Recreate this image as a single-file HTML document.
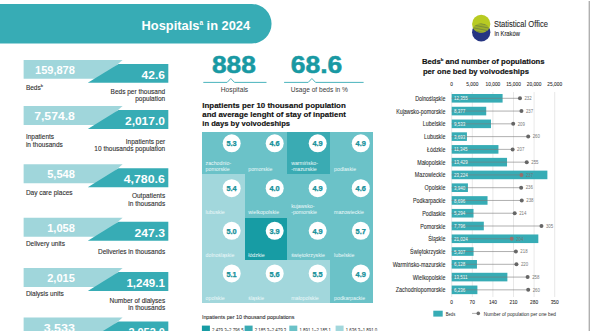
<!DOCTYPE html>
<html><head><meta charset="utf-8"><style>
html,body{margin:0;padding:0;background:#fff;width:590px;height:331px;overflow:hidden}
svg{display:block}
text{font-family:"Liberation Sans", sans-serif}
</style></head><body>
<svg width="590" height="331" viewBox="0 0 590 331">
<rect width="590" height="331" fill="#fff"/>
<path d="M0 4 H251.8 A19.75 19.75 0 0 1 251.8 43.5 H0 Z" fill="#37acb5"/>
<text x="141.60" y="29.70" font-size="12.8" font-weight="bold" fill="#fff" text-anchor="start" textLength="108.50" lengthAdjust="spacingAndGlyphs" >Hospitals<tspan font-size="6.5" dy="-5">a</tspan><tspan dy="5"> in 2024</tspan></text>
<polygon points="23.6,59.9 122.6,59.9 100.81,78.85 23.6,78.85" fill="#a0d6db"/>
<polygon points="118.5,63.90 168.3,63.90 168.3,82.85 87.80,82.85" fill="#37acb5"/>
<text x="74.90" y="74.10" font-size="10.9" font-weight="bold" fill="#fff" text-anchor="end" textLength="39.90" lengthAdjust="spacingAndGlyphs" >159,878</text>
<text x="164.90" y="78.60" font-size="11.0" font-weight="bold" fill="#fff" text-anchor="end" textLength="23.30" lengthAdjust="spacingAndGlyphs" >42.6</text>
<text x="25.90" y="89.80" font-size="6.5" font-weight="normal" fill="#2e2e2e" text-anchor="start" stroke="#2e2e2e" stroke-width="0.1">Beds<tspan font-size="4" dy="-3">b</tspan></text>
<text x="165.20" y="93.90" font-size="6.5" font-weight="normal" fill="#2e2e2e" text-anchor="end" stroke="#2e2e2e" stroke-width="0.1">Beds per thousand</text>
<text x="165.20" y="101.10" font-size="6.5" font-weight="normal" fill="#2e2e2e" text-anchor="end" stroke="#2e2e2e" stroke-width="0.1">population</text>
<polygon points="23.6,106.1 122.6,106.1 100.81,125.05 23.6,125.05" fill="#a0d6db"/>
<polygon points="118.5,110.10 168.3,110.10 168.3,129.05 87.80,129.05" fill="#37acb5"/>
<text x="74.90" y="120.30" font-size="10.9" font-weight="bold" fill="#fff" text-anchor="end" textLength="40.70" lengthAdjust="spacingAndGlyphs" >7,574.8</text>
<text x="164.90" y="124.80" font-size="11.0" font-weight="bold" fill="#fff" text-anchor="end" textLength="39.90" lengthAdjust="spacingAndGlyphs" >2,017.0</text>
<text x="25.90" y="138.80" font-size="6.5" font-weight="normal" fill="#2e2e2e" text-anchor="start" stroke="#2e2e2e" stroke-width="0.1">Inpatients</text>
<text x="25.90" y="146.60" font-size="6.5" font-weight="normal" fill="#2e2e2e" text-anchor="start" stroke="#2e2e2e" stroke-width="0.1">in thousands</text>
<text x="165.20" y="143.50" font-size="6.5" font-weight="normal" fill="#2e2e2e" text-anchor="end" stroke="#2e2e2e" stroke-width="0.1">Inpatients per</text>
<text x="165.20" y="151.00" font-size="6.5" font-weight="normal" fill="#2e2e2e" text-anchor="end" stroke="#2e2e2e" stroke-width="0.1">10 thousands population</text>
<polygon points="23.6,164.2 122.6,164.2 100.81,183.15 23.6,183.15" fill="#a0d6db"/>
<polygon points="118.5,168.20 168.3,168.20 168.3,187.15 87.80,187.15" fill="#37acb5"/>
<text x="74.90" y="178.40" font-size="10.9" font-weight="bold" fill="#fff" text-anchor="end" textLength="27.70" lengthAdjust="spacingAndGlyphs" >5,548</text>
<text x="164.90" y="182.90" font-size="11.0" font-weight="bold" fill="#fff" text-anchor="end" textLength="41.20" lengthAdjust="spacingAndGlyphs" >4,780.6</text>
<text x="25.90" y="194.90" font-size="6.5" font-weight="normal" fill="#2e2e2e" text-anchor="start" stroke="#2e2e2e" stroke-width="0.1">Day care places</text>
<text x="165.20" y="197.80" font-size="6.5" font-weight="normal" fill="#2e2e2e" text-anchor="end" stroke="#2e2e2e" stroke-width="0.1">Outpatients</text>
<text x="165.20" y="205.50" font-size="6.5" font-weight="normal" fill="#2e2e2e" text-anchor="end" stroke="#2e2e2e" stroke-width="0.1">in thousands</text>
<polygon points="23.6,217.8 122.6,217.8 100.81,236.75 23.6,236.75" fill="#a0d6db"/>
<polygon points="118.5,221.80 168.3,221.80 168.3,240.75 87.80,240.75" fill="#37acb5"/>
<text x="74.90" y="232.00" font-size="10.9" font-weight="bold" fill="#fff" text-anchor="end" textLength="27.70" lengthAdjust="spacingAndGlyphs" >1,058</text>
<text x="164.90" y="236.50" font-size="11.0" font-weight="bold" fill="#fff" text-anchor="end" textLength="30.40" lengthAdjust="spacingAndGlyphs" >247.3</text>
<text x="25.90" y="246.00" font-size="6.5" font-weight="normal" fill="#2e2e2e" text-anchor="start" stroke="#2e2e2e" stroke-width="0.1">Delivery units</text>
<text x="165.20" y="253.90" font-size="6.5" font-weight="normal" fill="#2e2e2e" text-anchor="end" stroke="#2e2e2e" stroke-width="0.1">Deliveries in thousands</text>
<polygon points="23.6,268.0 122.6,268.0 100.81,286.95 23.6,286.95" fill="#a0d6db"/>
<polygon points="118.5,272.00 168.3,272.00 168.3,290.95 87.80,290.95" fill="#37acb5"/>
<text x="74.90" y="282.20" font-size="10.9" font-weight="bold" fill="#fff" text-anchor="end" textLength="27.70" lengthAdjust="spacingAndGlyphs" >2,015</text>
<text x="164.90" y="286.70" font-size="11.0" font-weight="bold" fill="#fff" text-anchor="end" textLength="38.50" lengthAdjust="spacingAndGlyphs" >1,249.1</text>
<text x="25.90" y="295.70" font-size="6.5" font-weight="normal" fill="#2e2e2e" text-anchor="start" stroke="#2e2e2e" stroke-width="0.1">Dialysis units</text>
<text x="165.20" y="302.50" font-size="6.5" font-weight="normal" fill="#2e2e2e" text-anchor="end" stroke="#2e2e2e" stroke-width="0.1">Number of dialyses</text>
<text x="165.20" y="310.10" font-size="6.5" font-weight="normal" fill="#2e2e2e" text-anchor="end" stroke="#2e2e2e" stroke-width="0.1">in thousands</text>
<polygon points="23.6,317.4 122.6,317.4 100.81,336.35 23.6,336.35" fill="#a0d6db"/>
<polygon points="118.5,321.40 168.3,321.40 168.3,340.35 87.80,340.35" fill="#37acb5"/>
<text x="74.90" y="331.60" font-size="10.9" font-weight="bold" fill="#fff" text-anchor="end" textLength="31.20" lengthAdjust="spacingAndGlyphs" >3,533</text>
<text x="164.90" y="336.10" font-size="11.0" font-weight="bold" fill="#fff" text-anchor="end" textLength="36.50" lengthAdjust="spacingAndGlyphs" >2,052.0</text>
<text x="212.00" y="73.40" font-size="23.4" font-weight="bold" fill="#1899a3" text-anchor="start" textLength="43.80" lengthAdjust="spacingAndGlyphs" stroke="#1899a3" stroke-width="0.5">888</text>
<text x="290.70" y="73.40" font-size="23.4" font-weight="bold" fill="#1899a3" text-anchor="start" textLength="51.60" lengthAdjust="spacingAndGlyphs" stroke="#1899a3" stroke-width="0.5">68.6</text>
<polyline points="203.3,82.4 227.10000000000002,82.4 230.8,78.5 234.5,82.4 266.5,82.4" fill="none" stroke="#37acb5" stroke-width="0.9"/>
<polyline points="284.1,82.4 308.2,82.4 311.9,78.5 315.59999999999997,82.4 363.6,82.4" fill="none" stroke="#37acb5" stroke-width="0.9"/>
<text x="220.80" y="91.60" font-size="6.5" font-weight="normal" fill="#3a3a3a" text-anchor="start" textLength="27.40" lengthAdjust="spacingAndGlyphs" >Hospitals</text>
<text x="290.80" y="91.60" font-size="6.5" font-weight="normal" fill="#3a3a3a" text-anchor="start" textLength="57.20" lengthAdjust="spacingAndGlyphs" >Usage of beds in %</text>
<text x="202.30" y="107.70" font-size="7.6" font-weight="bold" fill="#111" text-anchor="start" textLength="143.50" lengthAdjust="spacingAndGlyphs" stroke="#111" stroke-width="0.15">Inpatients per 10 thousand population</text>
<text x="202.30" y="116.60" font-size="7.6" font-weight="bold" fill="#111" text-anchor="start" textLength="143.50" lengthAdjust="spacingAndGlyphs" stroke="#111" stroke-width="0.15">and average lenght of stay of inpatient</text>
<text x="202.30" y="125.50" font-size="7.6" font-weight="bold" fill="#111" text-anchor="start" textLength="87.80" lengthAdjust="spacingAndGlyphs" stroke="#111" stroke-width="0.15">in days by voivodeships</text>
<rect x="201.8" y="131.9" width="171.50" height="171.40" fill="#6bc2c8" shape-rendering="crispEdges"/>
<rect x="287.4" y="131.9" width="42.90" height="42.10" fill="#3aabb3" shape-rendering="crispEdges"/>
<rect x="201.8" y="174.0" width="42.70" height="43.70" fill="#a2d7dc" shape-rendering="crispEdges"/>
<rect x="201.8" y="217.7" width="42.70" height="42.60" fill="#a2d7dc" shape-rendering="crispEdges"/>
<rect x="244.5" y="217.7" width="42.90" height="42.60" fill="#179ca4" shape-rendering="crispEdges"/>
<rect x="201.8" y="260.3" width="42.70" height="43.00" fill="#a2d7dc" shape-rendering="crispEdges"/>
<rect x="244.5" y="260.3" width="42.90" height="43.00" fill="#a2d7dc" shape-rendering="crispEdges"/>
<rect x="287.4" y="260.3" width="42.90" height="43.00" fill="#a2d7dc" shape-rendering="crispEdges"/>
<circle cx="231.7" cy="143.35" r="9.0" fill="#fff"/>
<text x="231.60" y="146.45" font-size="7.0" font-weight="bold" fill="#138f99" text-anchor="middle" textLength="10.22" lengthAdjust="spacingAndGlyphs" stroke="#138f99" stroke-width="0.25">5.3</text>
<text x="205.60" y="164.50" font-size="5.5" font-weight="normal" fill="#eef9fa" text-anchor="start" textLength="25.56" lengthAdjust="spacingAndGlyphs" >zachodnio-</text>
<text x="205.60" y="170.60" font-size="5.5" font-weight="normal" fill="#eef9fa" text-anchor="start" textLength="24.10" lengthAdjust="spacingAndGlyphs" >pomorskie</text>
<circle cx="274.7" cy="143.35" r="9.0" fill="#fff"/>
<text x="274.60" y="146.45" font-size="7.0" font-weight="bold" fill="#138f99" text-anchor="middle" textLength="10.22" lengthAdjust="spacingAndGlyphs" stroke="#138f99" stroke-width="0.25">4.6</text>
<text x="248.30" y="170.60" font-size="5.5" font-weight="normal" fill="#eef9fa" text-anchor="start" textLength="24.10" lengthAdjust="spacingAndGlyphs" >pomorskie</text>
<circle cx="317.7" cy="143.35" r="9.0" fill="#fff"/>
<text x="317.60" y="146.45" font-size="7.0" font-weight="bold" fill="#138f99" text-anchor="middle" textLength="10.22" lengthAdjust="spacingAndGlyphs" stroke="#138f99" stroke-width="0.25">4.9</text>
<text x="291.20" y="164.50" font-size="5.5" font-weight="normal" fill="#eef9fa" text-anchor="start" textLength="26.71" lengthAdjust="spacingAndGlyphs" >warmińsko-</text>
<text x="291.20" y="170.60" font-size="5.5" font-weight="normal" fill="#eef9fa" text-anchor="start" textLength="25.55" lengthAdjust="spacingAndGlyphs" >-mazurskie</text>
<circle cx="360.8" cy="143.35" r="9.0" fill="#fff"/>
<text x="360.70" y="146.45" font-size="7.0" font-weight="bold" fill="#138f99" text-anchor="middle" textLength="10.22" lengthAdjust="spacingAndGlyphs" stroke="#138f99" stroke-width="0.25">4.9</text>
<text x="334.10" y="170.60" font-size="5.5" font-weight="normal" fill="#eef9fa" text-anchor="start" textLength="22.07" lengthAdjust="spacingAndGlyphs" >podlaskie</text>
<circle cx="231.7" cy="188.15" r="9.0" fill="#fff"/>
<text x="231.60" y="191.25" font-size="7.0" font-weight="bold" fill="#138f99" text-anchor="middle" textLength="10.22" lengthAdjust="spacingAndGlyphs" stroke="#138f99" stroke-width="0.25">5.4</text>
<text x="205.60" y="214.30" font-size="5.5" font-weight="normal" fill="#eef9fa" text-anchor="start" textLength="19.17" lengthAdjust="spacingAndGlyphs" >lubuskie</text>
<circle cx="274.7" cy="188.15" r="9.0" fill="#fff"/>
<text x="274.60" y="191.25" font-size="7.0" font-weight="bold" fill="#138f99" text-anchor="middle" textLength="10.22" lengthAdjust="spacingAndGlyphs" stroke="#138f99" stroke-width="0.25">4.0</text>
<text x="248.30" y="214.30" font-size="5.5" font-weight="normal" fill="#eef9fa" text-anchor="start" textLength="30.78" lengthAdjust="spacingAndGlyphs" >wielkopolskie</text>
<circle cx="317.7" cy="188.15" r="9.0" fill="#fff"/>
<text x="317.60" y="191.25" font-size="7.0" font-weight="bold" fill="#138f99" text-anchor="middle" textLength="10.22" lengthAdjust="spacingAndGlyphs" stroke="#138f99" stroke-width="0.25">4.9</text>
<text x="291.20" y="208.20" font-size="5.5" font-weight="normal" fill="#eef9fa" text-anchor="start" textLength="23.23" lengthAdjust="spacingAndGlyphs" >kujawsko-</text>
<text x="291.20" y="214.30" font-size="5.5" font-weight="normal" fill="#eef9fa" text-anchor="start" textLength="25.84" lengthAdjust="spacingAndGlyphs" >-pomorskie</text>
<circle cx="360.8" cy="188.15" r="9.0" fill="#fff"/>
<text x="360.70" y="191.25" font-size="7.0" font-weight="bold" fill="#138f99" text-anchor="middle" textLength="10.22" lengthAdjust="spacingAndGlyphs" stroke="#138f99" stroke-width="0.25">4.6</text>
<text x="334.10" y="214.30" font-size="5.5" font-weight="normal" fill="#eef9fa" text-anchor="start" textLength="29.91" lengthAdjust="spacingAndGlyphs" >mazowieckie</text>
<circle cx="231.7" cy="230.8" r="9.0" fill="#fff"/>
<text x="231.60" y="233.90" font-size="7.0" font-weight="bold" fill="#138f99" text-anchor="middle" textLength="10.22" lengthAdjust="spacingAndGlyphs" stroke="#138f99" stroke-width="0.25">5.0</text>
<text x="205.60" y="256.90" font-size="5.5" font-weight="normal" fill="#eef9fa" text-anchor="start" textLength="28.75" lengthAdjust="spacingAndGlyphs" >dolnośląskie</text>
<circle cx="274.7" cy="230.8" r="9.0" fill="#fff"/>
<text x="274.60" y="233.90" font-size="7.0" font-weight="bold" fill="#138f99" text-anchor="middle" textLength="10.22" lengthAdjust="spacingAndGlyphs" stroke="#138f99" stroke-width="0.25">3.9</text>
<text x="248.30" y="256.90" font-size="5.5" font-weight="normal" fill="#eef9fa" text-anchor="start" textLength="16.26" lengthAdjust="spacingAndGlyphs" >łódzkie</text>
<circle cx="317.7" cy="230.8" r="9.0" fill="#fff"/>
<text x="317.60" y="233.90" font-size="7.0" font-weight="bold" fill="#138f99" text-anchor="middle" textLength="10.22" lengthAdjust="spacingAndGlyphs" stroke="#138f99" stroke-width="0.25">4.9</text>
<text x="291.20" y="256.90" font-size="5.5" font-weight="normal" fill="#eef9fa" text-anchor="start" textLength="33.68" lengthAdjust="spacingAndGlyphs" >świętokrzyskie</text>
<circle cx="360.8" cy="230.8" r="9.0" fill="#fff"/>
<text x="360.70" y="233.90" font-size="7.0" font-weight="bold" fill="#138f99" text-anchor="middle" textLength="10.22" lengthAdjust="spacingAndGlyphs" stroke="#138f99" stroke-width="0.25">5.7</text>
<text x="334.10" y="256.90" font-size="5.5" font-weight="normal" fill="#eef9fa" text-anchor="start" textLength="20.33" lengthAdjust="spacingAndGlyphs" >lubelskie</text>
<circle cx="231.7" cy="273.4" r="9.0" fill="#fff"/>
<text x="231.60" y="276.50" font-size="7.0" font-weight="bold" fill="#138f99" text-anchor="middle" textLength="10.22" lengthAdjust="spacingAndGlyphs" stroke="#138f99" stroke-width="0.25">5.1</text>
<text x="205.60" y="299.90" font-size="5.5" font-weight="normal" fill="#eef9fa" text-anchor="start" textLength="19.17" lengthAdjust="spacingAndGlyphs" >opolskie</text>
<circle cx="274.7" cy="273.4" r="9.0" fill="#fff"/>
<text x="274.60" y="276.50" font-size="7.0" font-weight="bold" fill="#138f99" text-anchor="middle" textLength="10.22" lengthAdjust="spacingAndGlyphs" stroke="#138f99" stroke-width="0.25">5.6</text>
<text x="248.30" y="299.90" font-size="5.5" font-weight="normal" fill="#eef9fa" text-anchor="start" textLength="15.97" lengthAdjust="spacingAndGlyphs" >śląskie</text>
<circle cx="317.7" cy="273.4" r="9.0" fill="#fff"/>
<text x="317.60" y="276.50" font-size="7.0" font-weight="bold" fill="#138f99" text-anchor="middle" textLength="10.22" lengthAdjust="spacingAndGlyphs" stroke="#138f99" stroke-width="0.25">5.5</text>
<text x="291.20" y="299.90" font-size="5.5" font-weight="normal" fill="#eef9fa" text-anchor="start" textLength="27.59" lengthAdjust="spacingAndGlyphs" >małopolskie</text>
<circle cx="360.8" cy="273.4" r="9.0" fill="#fff"/>
<text x="360.70" y="276.50" font-size="7.0" font-weight="bold" fill="#138f99" text-anchor="middle" textLength="10.22" lengthAdjust="spacingAndGlyphs" stroke="#138f99" stroke-width="0.25">4.9</text>
<text x="334.10" y="299.90" font-size="5.5" font-weight="normal" fill="#eef9fa" text-anchor="start" textLength="31.08" lengthAdjust="spacingAndGlyphs" >podkarpackie</text>
<text x="201.90" y="319" font-size="5.6" font-weight="normal" fill="#2a2a2a" text-anchor="start" textLength="92.65" lengthAdjust="spacingAndGlyphs" stroke="#2a2a2a" stroke-width="0.08">Inpatients per 10 thousand populations</text>
<rect x="201.9" y="325.6" width="8" height="8" fill="#179ca4"/>
<text x="212.00" y="331.50" font-size="5.6" font-weight="normal" fill="#2a2a2a" text-anchor="start" textLength="31.60" lengthAdjust="spacingAndGlyphs" >2,479.3–2,796.5</text>
<rect x="244.6" y="325.6" width="8" height="8" fill="#3aabb3"/>
<text x="254.70" y="331.50" font-size="5.6" font-weight="normal" fill="#2a2a2a" text-anchor="start" textLength="31.60" lengthAdjust="spacingAndGlyphs" >2,185.3–2,479.3</text>
<rect x="289.3" y="325.6" width="8" height="8" fill="#6bc2c8"/>
<text x="299.40" y="331.50" font-size="5.6" font-weight="normal" fill="#2a2a2a" text-anchor="start" textLength="31.60" lengthAdjust="spacingAndGlyphs" >1,891.1–2,185.1</text>
<rect x="335.6" y="325.6" width="8" height="8" fill="#a2d7dc"/>
<text x="345.70" y="331.50" font-size="5.6" font-weight="normal" fill="#2a2a2a" text-anchor="start" textLength="31.60" lengthAdjust="spacingAndGlyphs" >1,636.3–1,891.0</text>
<defs><clipPath id="ct"><circle cx="481.2" cy="23.9" r="9.15"/></clipPath><clipPath id="cb"><circle cx="481.2" cy="32.3" r="9.15"/></clipPath></defs>
<circle cx="481.2" cy="32.3" r="9.15" fill="#263582"/>
<circle cx="481.2" cy="23.9" r="9.15" fill="#b8cb22"/>
<g clip-path="url(#cb)"><g clip-path="url(#ct)"><line x1="470" y1="24.60" x2="493" y2="22.10" stroke="#6f823c" stroke-width="0.85"/><line x1="470" y1="26.15" x2="493" y2="23.65" stroke="#6f823c" stroke-width="0.85"/><line x1="470" y1="27.70" x2="493" y2="25.20" stroke="#6f823c" stroke-width="0.85"/><line x1="470" y1="29.25" x2="493" y2="26.75" stroke="#6f823c" stroke-width="0.85"/><line x1="470" y1="30.80" x2="493" y2="28.30" stroke="#6f823c" stroke-width="0.85"/><line x1="470" y1="32.35" x2="493" y2="29.85" stroke="#6f823c" stroke-width="0.85"/><line x1="470" y1="33.90" x2="493" y2="31.40" stroke="#6f823c" stroke-width="0.85"/><line x1="470" y1="35.45" x2="493" y2="32.95" stroke="#6f823c" stroke-width="0.85"/></g></g>
<text x="493.90" y="27.40" font-size="8.5" font-weight="normal" fill="#2a2a2a" text-anchor="start" textLength="54.10" lengthAdjust="spacingAndGlyphs" stroke="#2a2a2a" stroke-width="0.1">Statistical Office</text>
<text x="494.40" y="35.50" font-size="6.5" font-weight="normal" fill="#2a2a2a" text-anchor="start" textLength="25.50" lengthAdjust="spacingAndGlyphs" stroke="#2a2a2a" stroke-width="0.1">in Kraków</text>
<text x="421.90" y="63.80" font-size="7.2" font-weight="bold" fill="#111" text-anchor="start" textLength="122.70" lengthAdjust="spacingAndGlyphs" stroke="#111" stroke-width="0.15">Beds<tspan font-size="4" dy="-3">b</tspan><tspan dy="3"> and number of populations</tspan></text>
<text x="422.90" y="73.50" font-size="7.2" font-weight="bold" fill="#111" text-anchor="start" textLength="106.10" lengthAdjust="spacingAndGlyphs" stroke="#111" stroke-width="0.15">per one bed by voivodeships</text>
<text x="451.70" y="85.90" font-size="5.6" font-weight="normal" fill="#2a2a2a" text-anchor="middle" textLength="2.68" lengthAdjust="spacingAndGlyphs" stroke="#2a2a2a" stroke-width="0.08">0</text>
<text x="472.30" y="85.90" font-size="5.6" font-weight="normal" fill="#2a2a2a" text-anchor="middle" textLength="12.05" lengthAdjust="spacingAndGlyphs" stroke="#2a2a2a" stroke-width="0.08">5,000</text>
<text x="492.90" y="85.90" font-size="5.6" font-weight="normal" fill="#2a2a2a" text-anchor="middle" textLength="14.73" lengthAdjust="spacingAndGlyphs" stroke="#2a2a2a" stroke-width="0.08">10,000</text>
<text x="513.50" y="85.90" font-size="5.6" font-weight="normal" fill="#2a2a2a" text-anchor="middle" textLength="14.73" lengthAdjust="spacingAndGlyphs" stroke="#2a2a2a" stroke-width="0.08">15,000</text>
<text x="534.10" y="85.90" font-size="5.6" font-weight="normal" fill="#2a2a2a" text-anchor="middle" textLength="14.73" lengthAdjust="spacingAndGlyphs" stroke="#2a2a2a" stroke-width="0.08">20,000</text>
<text x="554.70" y="85.90" font-size="5.6" font-weight="normal" fill="#2a2a2a" text-anchor="middle" textLength="14.73" lengthAdjust="spacingAndGlyphs" stroke="#2a2a2a" stroke-width="0.08">25,000</text>
<text x="451.70" y="303.60" font-size="5.6" font-weight="normal" fill="#2a2a2a" text-anchor="middle" textLength="2.68" lengthAdjust="spacingAndGlyphs" stroke="#2a2a2a" stroke-width="0.08">0</text>
<text x="472.30" y="303.60" font-size="5.6" font-weight="normal" fill="#2a2a2a" text-anchor="middle" textLength="5.36" lengthAdjust="spacingAndGlyphs" stroke="#2a2a2a" stroke-width="0.08">70</text>
<text x="492.90" y="303.60" font-size="5.6" font-weight="normal" fill="#2a2a2a" text-anchor="middle" textLength="8.03" lengthAdjust="spacingAndGlyphs" stroke="#2a2a2a" stroke-width="0.08">140</text>
<text x="513.50" y="303.60" font-size="5.6" font-weight="normal" fill="#2a2a2a" text-anchor="middle" textLength="8.03" lengthAdjust="spacingAndGlyphs" stroke="#2a2a2a" stroke-width="0.08">210</text>
<text x="534.10" y="303.60" font-size="5.6" font-weight="normal" fill="#2a2a2a" text-anchor="middle" textLength="8.03" lengthAdjust="spacingAndGlyphs" stroke="#2a2a2a" stroke-width="0.08">280</text>
<text x="554.70" y="303.60" font-size="5.6" font-weight="normal" fill="#2a2a2a" text-anchor="middle" textLength="8.03" lengthAdjust="spacingAndGlyphs" stroke="#2a2a2a" stroke-width="0.08">350</text>
<line x1="451.70" y1="92" x2="451.70" y2="297" stroke="#d9d9d9" stroke-width="0.6"/>
<line x1="472.30" y1="92" x2="472.30" y2="297" stroke="#d9d9d9" stroke-width="0.6"/>
<line x1="492.90" y1="92" x2="492.90" y2="297" stroke="#d9d9d9" stroke-width="0.6"/>
<line x1="513.50" y1="92" x2="513.50" y2="297" stroke="#d9d9d9" stroke-width="0.6"/>
<line x1="534.10" y1="92" x2="534.10" y2="297" stroke="#d9d9d9" stroke-width="0.6"/>
<line x1="554.70" y1="92" x2="554.70" y2="297" stroke="#d9d9d9" stroke-width="0.6"/>
<rect x="451.7" y="94.00" width="50.90" height="8.6" fill="#37acb5"/>
<line x1="451.7" y1="98.30" x2="519.97" y2="98.30" stroke="#7a7a7a" stroke-width="0.6"/>
<circle cx="519.97" cy="98.30" r="2.0" fill="#666"/>
<text x="524.47" y="100.10" font-size="4.8" font-weight="normal" fill="#777" text-anchor="start" textLength="7.21" lengthAdjust="spacingAndGlyphs" >232</text>
<text x="454.00" y="100.40" font-size="5.6" font-weight="normal" fill="#f2fafa" text-anchor="start" textLength="13.76" lengthAdjust="spacingAndGlyphs" >12,355</text>
<text x="445.40" y="100.80" font-size="6.5" font-weight="normal" fill="#2a2a2a" text-anchor="end" textLength="30.27" lengthAdjust="spacingAndGlyphs" stroke="#2a2a2a" stroke-width="0.08">Dolnośląskie</text>
<rect x="451.7" y="106.77" width="34.51" height="8.6" fill="#37acb5"/>
<line x1="451.7" y1="111.07" x2="521.45" y2="111.07" stroke="#7a7a7a" stroke-width="0.6"/>
<circle cx="521.45" cy="111.07" r="2.0" fill="#666"/>
<text x="525.95" y="112.87" font-size="4.8" font-weight="normal" fill="#777" text-anchor="start" textLength="7.21" lengthAdjust="spacingAndGlyphs" >237</text>
<text x="454.00" y="113.17" font-size="5.6" font-weight="normal" fill="#f2fafa" text-anchor="start" textLength="11.26" lengthAdjust="spacingAndGlyphs" >8,377</text>
<text x="445.40" y="113.57" font-size="6.5" font-weight="normal" fill="#2a2a2a" text-anchor="end" textLength="49.26" lengthAdjust="spacingAndGlyphs" stroke="#2a2a2a" stroke-width="0.08">Kujawsko-pomorskie</text>
<rect x="451.7" y="119.54" width="39.28" height="8.6" fill="#37acb5"/>
<line x1="451.7" y1="123.84" x2="513.21" y2="123.84" stroke="#7a7a7a" stroke-width="0.6"/>
<circle cx="513.21" cy="123.84" r="2.0" fill="#666"/>
<text x="517.71" y="125.64" font-size="4.8" font-weight="normal" fill="#777" text-anchor="start" textLength="7.21" lengthAdjust="spacingAndGlyphs" >209</text>
<text x="454.00" y="125.94" font-size="5.6" font-weight="normal" fill="#f2fafa" text-anchor="start" textLength="11.26" lengthAdjust="spacingAndGlyphs" >9,533</text>
<text x="445.40" y="126.34" font-size="6.5" font-weight="normal" fill="#2a2a2a" text-anchor="end" textLength="22.56" lengthAdjust="spacingAndGlyphs" stroke="#2a2a2a" stroke-width="0.08">Lubelskie</text>
<rect x="451.7" y="132.31" width="15.22" height="8.6" fill="#37acb5"/>
<line x1="451.7" y1="136.61" x2="528.21" y2="136.61" stroke="#7a7a7a" stroke-width="0.6"/>
<circle cx="528.21" cy="136.61" r="2.0" fill="#666"/>
<text x="532.71" y="138.41" font-size="4.8" font-weight="normal" fill="#777" text-anchor="start" textLength="7.21" lengthAdjust="spacingAndGlyphs" >260</text>
<text x="454.00" y="138.71" font-size="5.6" font-weight="normal" fill="#f2fafa" text-anchor="start" textLength="11.26" lengthAdjust="spacingAndGlyphs" >3,693</text>
<text x="445.40" y="139.11" font-size="6.5" font-weight="normal" fill="#2a2a2a" text-anchor="end" textLength="21.37" lengthAdjust="spacingAndGlyphs" stroke="#2a2a2a" stroke-width="0.08">Lubuskie</text>
<rect x="451.7" y="145.08" width="46.74" height="8.6" fill="#37acb5"/>
<line x1="451.7" y1="149.38" x2="512.62" y2="149.38" stroke="#7a7a7a" stroke-width="0.6"/>
<circle cx="512.62" cy="149.38" r="2.0" fill="#666"/>
<text x="517.12" y="151.18" font-size="4.8" font-weight="normal" fill="#777" text-anchor="start" textLength="7.21" lengthAdjust="spacingAndGlyphs" >207</text>
<text x="454.00" y="151.48" font-size="5.6" font-weight="normal" fill="#f2fafa" text-anchor="start" textLength="13.43" lengthAdjust="spacingAndGlyphs" >11,345</text>
<text x="445.40" y="151.88" font-size="6.5" font-weight="normal" fill="#2a2a2a" text-anchor="end" textLength="18.40" lengthAdjust="spacingAndGlyphs" stroke="#2a2a2a" stroke-width="0.08">Łódzkie</text>
<rect x="451.7" y="157.85" width="55.33" height="8.6" fill="#37acb5"/>
<line x1="451.7" y1="162.15" x2="526.74" y2="162.15" stroke="#7a7a7a" stroke-width="0.6"/>
<circle cx="526.74" cy="162.15" r="2.0" fill="#666"/>
<text x="531.24" y="163.95" font-size="4.8" font-weight="normal" fill="#777" text-anchor="start" textLength="7.21" lengthAdjust="spacingAndGlyphs" >255</text>
<text x="454.00" y="164.25" font-size="5.6" font-weight="normal" fill="#f2fafa" text-anchor="start" textLength="13.76" lengthAdjust="spacingAndGlyphs" >13,429</text>
<text x="445.40" y="164.65" font-size="6.5" font-weight="normal" fill="#2a2a2a" text-anchor="end" textLength="28.20" lengthAdjust="spacingAndGlyphs" stroke="#2a2a2a" stroke-width="0.08">Małopolskie</text>
<rect x="451.7" y="170.62" width="95.68" height="8.6" fill="#37acb5"/>
<line x1="451.7" y1="174.92" x2="521.45" y2="174.92" stroke="#7a7a7a" stroke-width="0.6"/>
<circle cx="521.45" cy="174.92" r="2.0" fill="#9a6f6c"/>
<text x="525.95" y="176.72" font-size="4.8" font-weight="normal" fill="#777" text-anchor="start" textLength="7.21" lengthAdjust="spacingAndGlyphs" >237</text>
<text x="454.00" y="177.02" font-size="5.6" font-weight="normal" fill="#f2fafa" text-anchor="start" textLength="13.76" lengthAdjust="spacingAndGlyphs" >23,224</text>
<text x="445.40" y="177.42" font-size="6.5" font-weight="normal" fill="#2a2a2a" text-anchor="end" textLength="30.57" lengthAdjust="spacingAndGlyphs" stroke="#2a2a2a" stroke-width="0.08">Mazowieckie</text>
<rect x="451.7" y="183.39" width="16.23" height="8.6" fill="#37acb5"/>
<line x1="451.7" y1="187.69" x2="521.15" y2="187.69" stroke="#7a7a7a" stroke-width="0.6"/>
<circle cx="521.15" cy="187.69" r="2.0" fill="#666"/>
<text x="525.65" y="189.49" font-size="4.8" font-weight="normal" fill="#777" text-anchor="start" textLength="7.21" lengthAdjust="spacingAndGlyphs" >236</text>
<text x="454.00" y="189.79" font-size="5.6" font-weight="normal" fill="#f2fafa" text-anchor="start" textLength="11.26" lengthAdjust="spacingAndGlyphs" >3,940</text>
<text x="445.40" y="190.19" font-size="6.5" font-weight="normal" fill="#2a2a2a" text-anchor="end" textLength="20.78" lengthAdjust="spacingAndGlyphs" stroke="#2a2a2a" stroke-width="0.08">Opolskie</text>
<rect x="451.7" y="196.16" width="35.83" height="8.6" fill="#37acb5"/>
<line x1="451.7" y1="200.46" x2="521.74" y2="200.46" stroke="#7a7a7a" stroke-width="0.6"/>
<circle cx="521.74" cy="200.46" r="2.0" fill="#666"/>
<text x="526.24" y="202.26" font-size="4.8" font-weight="normal" fill="#777" text-anchor="start" textLength="7.21" lengthAdjust="spacingAndGlyphs" >238</text>
<text x="454.00" y="202.56" font-size="5.6" font-weight="normal" fill="#f2fafa" text-anchor="start" textLength="11.26" lengthAdjust="spacingAndGlyphs" >8,696</text>
<text x="445.40" y="202.96" font-size="6.5" font-weight="normal" fill="#2a2a2a" text-anchor="end" textLength="32.35" lengthAdjust="spacingAndGlyphs" stroke="#2a2a2a" stroke-width="0.08">Podkarpackie</text>
<rect x="451.7" y="208.93" width="21.81" height="8.6" fill="#37acb5"/>
<line x1="451.7" y1="213.23" x2="514.68" y2="213.23" stroke="#7a7a7a" stroke-width="0.6"/>
<circle cx="514.68" cy="213.23" r="2.0" fill="#666"/>
<text x="519.18" y="215.03" font-size="4.8" font-weight="normal" fill="#777" text-anchor="start" textLength="7.21" lengthAdjust="spacingAndGlyphs" >214</text>
<text x="454.00" y="215.33" font-size="5.6" font-weight="normal" fill="#f2fafa" text-anchor="start" textLength="11.26" lengthAdjust="spacingAndGlyphs" >5,294</text>
<text x="445.40" y="215.73" font-size="6.5" font-weight="normal" fill="#2a2a2a" text-anchor="end" textLength="23.15" lengthAdjust="spacingAndGlyphs" stroke="#2a2a2a" stroke-width="0.08">Podlaskie</text>
<rect x="451.7" y="221.70" width="32.12" height="8.6" fill="#37acb5"/>
<line x1="451.7" y1="226.00" x2="541.46" y2="226.00" stroke="#7a7a7a" stroke-width="0.6"/>
<circle cx="541.46" cy="226.00" r="2.0" fill="#666"/>
<text x="545.96" y="227.80" font-size="4.8" font-weight="normal" fill="#777" text-anchor="start" textLength="7.21" lengthAdjust="spacingAndGlyphs" >305</text>
<text x="454.00" y="228.10" font-size="5.6" font-weight="normal" fill="#f2fafa" text-anchor="start" textLength="11.26" lengthAdjust="spacingAndGlyphs" >7,796</text>
<text x="445.40" y="228.50" font-size="6.5" font-weight="normal" fill="#2a2a2a" text-anchor="end" textLength="25.22" lengthAdjust="spacingAndGlyphs" stroke="#2a2a2a" stroke-width="0.08">Pomorskie</text>
<rect x="451.7" y="234.47" width="86.62" height="8.6" fill="#37acb5"/>
<line x1="451.7" y1="238.77" x2="511.73" y2="238.77" stroke="#7a7a7a" stroke-width="0.6"/>
<circle cx="511.73" cy="238.77" r="2.0" fill="#9a6f6c"/>
<text x="516.23" y="240.57" font-size="4.8" font-weight="normal" fill="#777" text-anchor="start" textLength="7.21" lengthAdjust="spacingAndGlyphs" >204</text>
<text x="454.00" y="240.87" font-size="5.6" font-weight="normal" fill="#f2fafa" text-anchor="start" textLength="13.76" lengthAdjust="spacingAndGlyphs" >21,024</text>
<text x="445.40" y="241.27" font-size="6.5" font-weight="normal" fill="#2a2a2a" text-anchor="end" textLength="17.21" lengthAdjust="spacingAndGlyphs" stroke="#2a2a2a" stroke-width="0.08">Śląskie</text>
<rect x="451.7" y="247.24" width="21.86" height="8.6" fill="#37acb5"/>
<line x1="451.7" y1="251.54" x2="515.85" y2="251.54" stroke="#7a7a7a" stroke-width="0.6"/>
<circle cx="515.85" cy="251.54" r="2.0" fill="#666"/>
<text x="520.35" y="253.34" font-size="4.8" font-weight="normal" fill="#777" text-anchor="start" textLength="7.21" lengthAdjust="spacingAndGlyphs" >218</text>
<text x="454.00" y="253.64" font-size="5.6" font-weight="normal" fill="#f2fafa" text-anchor="start" textLength="11.26" lengthAdjust="spacingAndGlyphs" >5,307</text>
<text x="445.40" y="254.04" font-size="6.5" font-weight="normal" fill="#2a2a2a" text-anchor="end" textLength="35.31" lengthAdjust="spacingAndGlyphs" stroke="#2a2a2a" stroke-width="0.08">Świętokrzyskie</text>
<rect x="451.7" y="260.01" width="25.25" height="8.6" fill="#37acb5"/>
<line x1="451.7" y1="264.31" x2="516.44" y2="264.31" stroke="#7a7a7a" stroke-width="0.6"/>
<circle cx="516.44" cy="264.31" r="2.0" fill="#666"/>
<text x="520.94" y="266.11" font-size="4.8" font-weight="normal" fill="#777" text-anchor="start" textLength="7.21" lengthAdjust="spacingAndGlyphs" >220</text>
<text x="454.00" y="266.41" font-size="5.6" font-weight="normal" fill="#f2fafa" text-anchor="start" textLength="11.26" lengthAdjust="spacingAndGlyphs" >6,128</text>
<text x="445.40" y="266.81" font-size="6.5" font-weight="normal" fill="#2a2a2a" text-anchor="end" textLength="52.61" lengthAdjust="spacingAndGlyphs" stroke="#2a2a2a" stroke-width="0.08">Warmińsko-mazurskie</text>
<rect x="451.7" y="272.78" width="55.67" height="8.6" fill="#37acb5"/>
<line x1="451.7" y1="277.08" x2="527.63" y2="277.08" stroke="#7a7a7a" stroke-width="0.6"/>
<circle cx="527.63" cy="277.08" r="2.0" fill="#666"/>
<text x="532.13" y="278.88" font-size="4.8" font-weight="normal" fill="#777" text-anchor="start" textLength="7.21" lengthAdjust="spacingAndGlyphs" >258</text>
<text x="454.00" y="279.18" font-size="5.6" font-weight="normal" fill="#f2fafa" text-anchor="start" textLength="13.43" lengthAdjust="spacingAndGlyphs" >13,511</text>
<text x="445.40" y="279.58" font-size="6.5" font-weight="normal" fill="#2a2a2a" text-anchor="end" textLength="32.64" lengthAdjust="spacingAndGlyphs" stroke="#2a2a2a" stroke-width="0.08">Wielkopolskie</text>
<rect x="451.7" y="285.55" width="25.69" height="8.6" fill="#37acb5"/>
<line x1="451.7" y1="289.85" x2="528.21" y2="289.85" stroke="#7a7a7a" stroke-width="0.6"/>
<circle cx="528.21" cy="289.85" r="2.0" fill="#666"/>
<text x="532.71" y="291.65" font-size="4.8" font-weight="normal" fill="#777" text-anchor="start" textLength="7.21" lengthAdjust="spacingAndGlyphs" >260</text>
<text x="454.00" y="291.95" font-size="5.6" font-weight="normal" fill="#f2fafa" text-anchor="start" textLength="11.26" lengthAdjust="spacingAndGlyphs" >6,236</text>
<text x="445.40" y="292.35" font-size="6.5" font-weight="normal" fill="#2a2a2a" text-anchor="end" textLength="49.57" lengthAdjust="spacingAndGlyphs" stroke="#2a2a2a" stroke-width="0.08">Zachodniopomorskie</text>
<rect x="433.3" y="310.7" width="9.4" height="5.9" fill="#37acb5"/>
<text x="445.70" y="315.50" font-size="5.6" font-weight="normal" fill="#2a2a2a" text-anchor="start" textLength="9.60" lengthAdjust="spacingAndGlyphs" >Beds</text>
<line x1="472" y1="313.4" x2="480" y2="313.4" stroke="#7a7a7a" stroke-width="0.6"/>
<circle cx="478.3" cy="313.4" r="1.8" fill="#6d6d6d"/>
<text x="483.70" y="315.50" font-size="5.6" font-weight="normal" fill="#2a2a2a" text-anchor="start" textLength="72.30" lengthAdjust="spacingAndGlyphs" >Number of population per one bed</text>
<rect x="588.6" y="1" width="1.4" height="330" fill="#b0b0b0"/>
</svg>
</body></html>
